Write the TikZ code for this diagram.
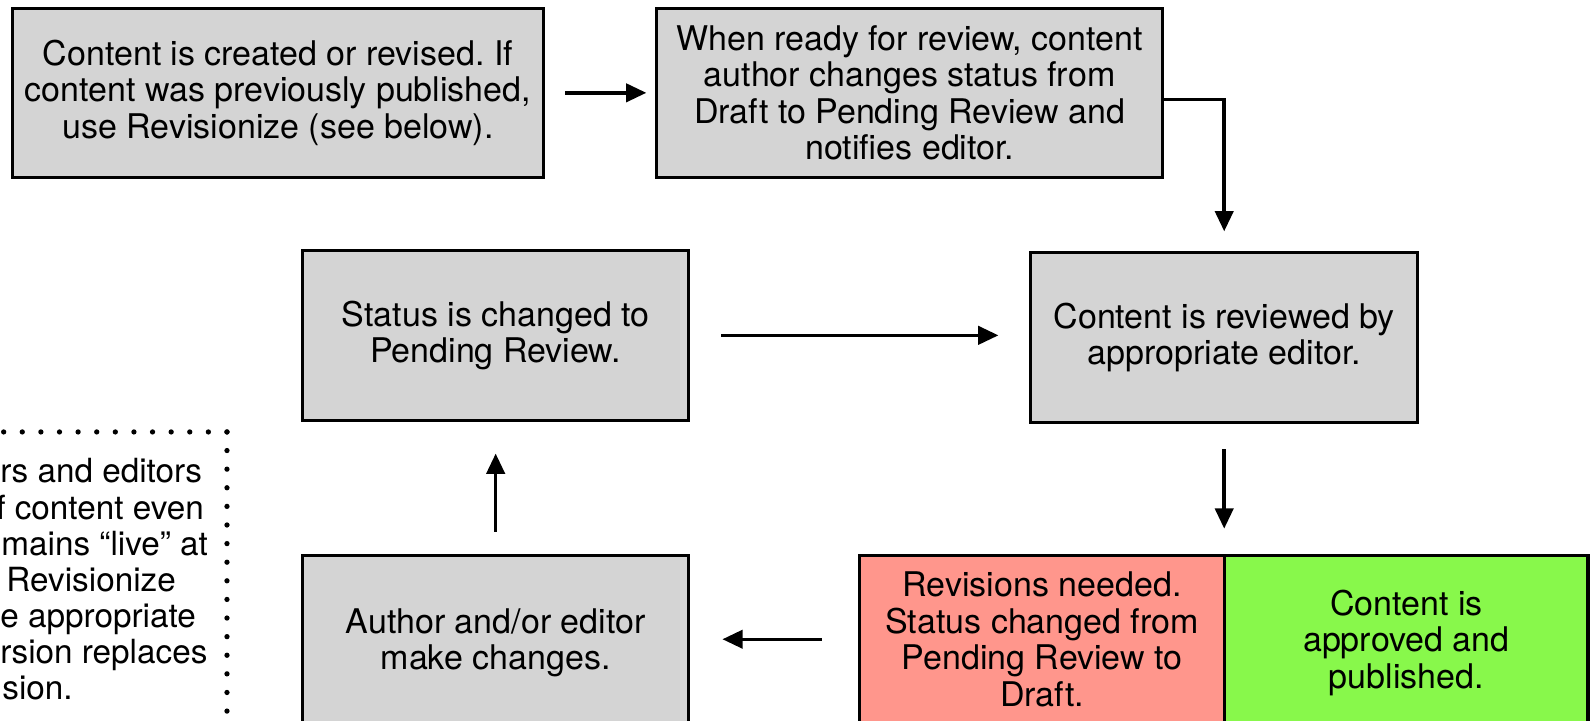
\documentclass[tikz,border=0pt]{standalone}
\usepackage{fontspec}
\setmainfont{TeX Gyre Heros}
\usetikzlibrary{positioning}
\usetikzlibrary{arrows.meta}
\definecolor{boxgray}{RGB}{212,212,212}
\definecolor{revred}{RGB}{255,150,140}
\definecolor{okgreen}{RGB}{136,248,75}

\begin{document}
\begin{tikzpicture}[x=0.5pt,y=-0.5pt,
stage/.style={draw=black,line width=1.5pt,fill=boxgray,align=center,outer sep=0pt,inner sep=2pt,font=\frenchspacing\fontsize{16.75}{18}\selectfont},
flow/.style={line width=1.7pt,-{Triangle[length=10pt,width=9pt]}},
notedots/.style={line width=2.6pt,line cap=round,dash pattern=on 0pt off 9.17pt}]
\useasboundingbox (0,0) rectangle (1568,709.6);
\clip (0,0) rectangle (1568,709.6);
%%% TOP ROW %%%
\node[stage,minimum width=262pt,minimum height=83.5pt] (create) at (274,91.5) {Content is created or revised. If\\content was previously published,\\use Revisionize (see below).};
\node[stage,minimum width=249.5pt,minimum height=83.5pt] (ready) at (896.5,91.5) {When ready for review, content\\author changes status from\\Draft to Pending Review and\\notifies editor.};
%%% MIDDLE ROW %%%
\node[stage,minimum width=190.5pt,minimum height=83.5pt] (pending) at (488.5,330.5) {Status is changed to\\Pending Review.};
\node[stage,minimum width=190.5pt,minimum height=83.5pt] (review) at (1206.5,332.5) {Content is reviewed by\\appropriate editor.};
%%% BOTTOM ROW, runs off the page %%%
\node[stage,minimum width=190.5pt,minimum height=101pt] (edit) at (488.5,648) {Author and/or editor\\make changes.\\\mbox{}};
\node[stage,fill=revred,minimum width=180pt,minimum height=101pt] (needed) at (1027,648) {Revisions needed.\\Status changed from\\Pending Review to\\Draft.\\\mbox{}};
\node[stage,fill=okgreen,minimum width=179pt,minimum height=101pt,right=0pt of needed] (approved) {Content is\\approved and\\published.\\\mbox{}};
\draw[flow,shorten <=10.5pt,shorten >=5pt] (create.east) -- (ready.west);
\draw[flow,shorten >=10.5pt] ([yshift=-3.25pt]ready.east) -| (review.north);
\draw[flow,shorten <=16pt,shorten >=16pt] (pending.east) -- (pending.east -| review.west);
\draw[flow,shorten <=13.5pt,shorten >=13pt] (review.south) -- (review.south |- needed.north);
\draw[flow,shorten <=18.5pt,shorten >=16.5pt] ([yshift=9pt]needed.west) -- ([yshift=9pt]edit.east);
\draw[flow,shorten <=11.5pt,shorten >=16.5pt] (edit.north) -- (pending.south);
%%% NOTE ON THE LEFT, cut by the page edge %%%
\coordinate (notecorner) at (223.7,425.7);
\draw[notedots] (notecorner) -- ++(-240,0);
\draw[notedots] (notecorner) -- ++(0,300);
\node[font=\fontsize{16.4}{17.8}\selectfont,align=left,anchor=west,inner sep=0pt] (note) at (0,571) {rs and editors\\\hspace*{-2pt}f content even\\\hspace*{0.5pt}mains “live” at\\\hspace*{3pt}Revisionize\\e appropriate\\rsion replaces\\\hspace*{1pt}sion.};
\end{tikzpicture}
\end{document}
